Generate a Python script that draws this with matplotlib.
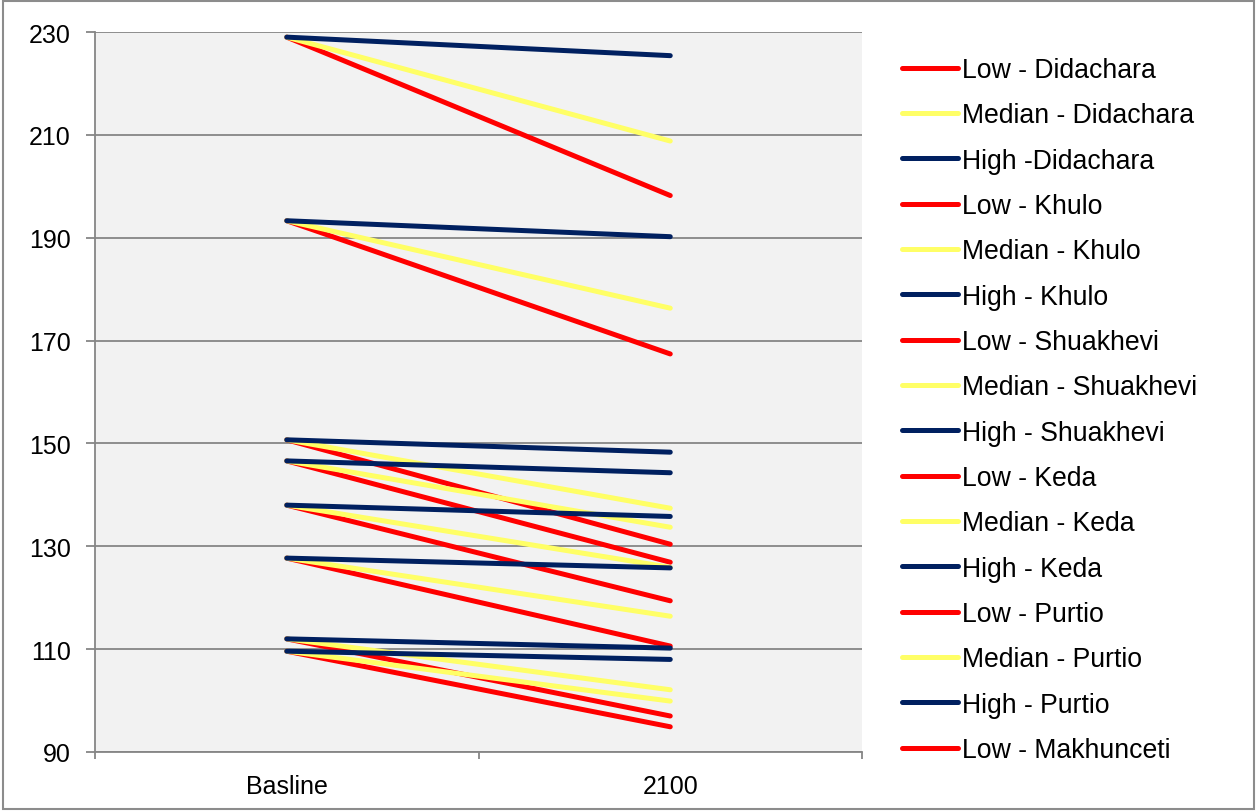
import matplotlib
matplotlib.use('Agg')
import matplotlib.pyplot as plt
from matplotlib.patches import Rectangle

# Data
periods = ['Basline', '2100']
stations = ['Didachara', 'Khulo', 'Shuakhevi', 'Keda', 'Purtio', 'Makhunceti', 'Station 7', 'Station 8']
baseline = [229.0, 193.3, 150.7, 146.6, 138.0, 127.7, 112.0, 109.6]
low_2100 = [198.2, 167.4, 130.4, 126.9, 119.4, 110.6, 97.0, 94.9]
median_2100 = [208.8, 176.3, 137.4, 133.7, 125.9, 116.4, 102.1, 99.9]
high_2100 = [225.4, 190.2, 148.3, 144.3, 135.8, 125.8, 110.2, 108.0]

scenario_colors = {'Low': '#ff0000', 'Median': '#ffff66', 'High': '#002060'}
grid_color = '#868686'

plt.rcParams['font.family'] = ['Liberation Sans', 'DejaVu Sans']

fig = plt.figure(figsize=(12.57, 8.12), dpi=100)
ax = fig.add_axes([95 / 1257, 1 - 753 / 812, (862 - 95) / 1257, (753 - 33) / 812])
ax.set_facecolor('#f2f2f2')

x = list(range(len(periods)))
handles = []
labels = []
for i, st in enumerate(stations):
    for scen, end in (('Low', low_2100), ('Median', median_2100), ('High', high_2100)):
        line, = ax.plot(x, [baseline[i], end[i]], color=scenario_colors[scen], lw=3.6,
                        solid_capstyle='round', zorder=3)
        sep = ' -' if (scen == 'High' and st == 'Didachara') else ' - '
        handles.append(line)
        labels.append(f'{scen}{sep}{st}')

ax.set_xlim(-0.5, 1.5)
ax.set_ylim(90, 230)
ax.set_yticks(range(90, 231, 20))
ax.yaxis.grid(True, color=grid_color, lw=1.3)
ax.set_axisbelow(True)

ax.set_xticks(x)
ax.set_xticklabels(periods)
ax.set_xticks([-0.5, 0.5, 1.5], minor=True)
ax.tick_params(axis='x', which='major', length=0, pad=16, labelsize=18)
ax.tick_params(axis='x', which='minor', length=5, width=1.3, color=grid_color, direction='out')
ax.tick_params(axis='y', length=6.5, width=1.3, color=grid_color, pad=11, labelsize=18)

for side in ('top', 'right'):
    ax.spines[side].set_visible(False)
for side in ('left', 'bottom'):
    ax.spines[side].set_color(grid_color)
    ax.spines[side].set_linewidth(1.3)

# legend only shows the first 16 entries (rest are cut off in the original)
leg = fig.legend(handles[:16], labels[:16], loc='upper left',
                 bbox_to_anchor=(902 / 1257, 1 - 58 / 812), frameon=False,
                 fontsize=19.2, handlelength=2.1, handletextpad=0.15,
                 labelspacing=0.725, borderpad=0, borderaxespad=0)

# chart area border
fig.patches.append(Rectangle((0.002, 0.003), 0.996, 0.994, transform=fig.transFigure,
                             fill=False, edgecolor='#8c8c8c', lw=1.5))

fig.savefig('out.png', dpi=100)
